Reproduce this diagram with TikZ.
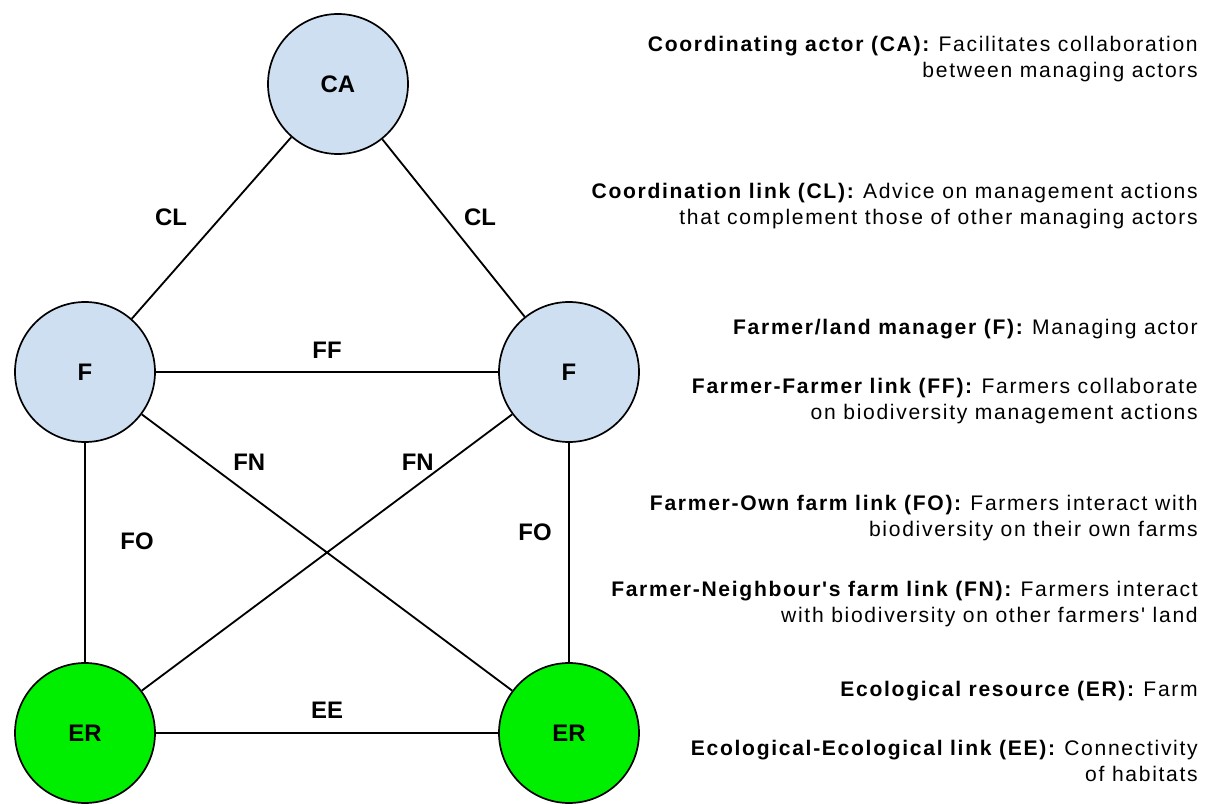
\documentclass[tikz,border=0pt]{standalone}
\usepackage{fontspec}
\setmainfont{Liberation Sans}
\newfontfamily\descfont[LetterSpace=8]{Liberation Sans}
\usepackage{tikz}
\usetikzlibrary{positioning}

\definecolor{actorblue}{RGB}{206,223,241}
\definecolor{farmgreen}{RGB}{0,238,0}

\begin{document}
\begin{tikzpicture}	[
	actor/.style={circle, draw, line width=1.2pt, fill=actorblue, minimum size=3.5cm, inner sep=0, font=\fontsize{17}{19}\selectfont\bfseries},
	farm/.style={actor, fill=farmgreen},
	lnk/.style={font=\fontsize{17}{19}\selectfont\bfseries},
	desc/.style={anchor=base east, align=right, inner sep=0, font=\descfont\fontsize{15}{19.2}\selectfont}
]
	\useasboundingbox (0,0) rectangle (30.15,-20.1);

	\path
		(8.45,-2.1) node[actor](CA){CA}
		(2.125,-9.3) node[actor](FA){F}
		(14.225,-9.3) node[actor](FB){F}
		(2.125,-18.325) node[farm](EA){ER}
		(14.225,-18.325) node[farm](EB){ER}
	;
	\draw[line width=1.3pt]
		(CA) -- node[lnk,pos=.44,xshift=-1.25cm]{CL} (FA)
		(CA) -- node[lnk,pos=.44,xshift=.875cm]{CL} (FB)
		(FA) -- node[lnk,midway,yshift=.55cm]{FF} (FB)
		(FA) -- node[lnk,pos=.29,yshift=.8cm]{FN} (EB)
		(FB) -- node[lnk,pos=.255,yshift=.57cm]{FN} (EA)
		(FA) -- node[lnk,pos=.45,xshift=1.3cm]{FO} (EA)
		(FB) -- node[lnk,pos=.41,xshift=-.85cm]{FO} (EB)
		(EA) -- node[lnk,midway,yshift=.575cm]{EE} (EB)
	;

	% legend on the right (base = last line)
	\path
		(29.95,-1.95) node[desc](dCA){\textbf{Coordinating actor (CA):} Facilitates collaboration\\between managing actors}
		(29.95,-5.625) node[desc](dCL){\textbf{Coordination link (CL):} Advice on management actions\\that complement those of other managing actors}
		(29.95,-8.375) node[desc](dF){\textbf{Farmer/land manager (F):} Managing actor}
		(29.95,-10.5) node[desc](dFF){\textbf{Farmer-Farmer link (FF):} Farmers collaborate\\on biodiversity management actions}
		(29.95,-13.425) node[desc](dFO){\textbf{Farmer-Own farm link (FO):} Farmers interact with\\biodiversity on their own farms}
		(29.95,-15.575) node[desc](dFN){\textbf{Farmer-Neighbour's farm link (FN):} Farmers interact\\with biodiversity on other farmers' land}
		(29.95,-17.425) node[desc](dER){\textbf{Ecological resource (ER):} Farm}
		(29.95,-19.55) node[desc](dEE){\textbf{Ecological-Ecological link (EE):} Connectivity\\of habitats}
	;
\end{tikzpicture}
\end{document}
